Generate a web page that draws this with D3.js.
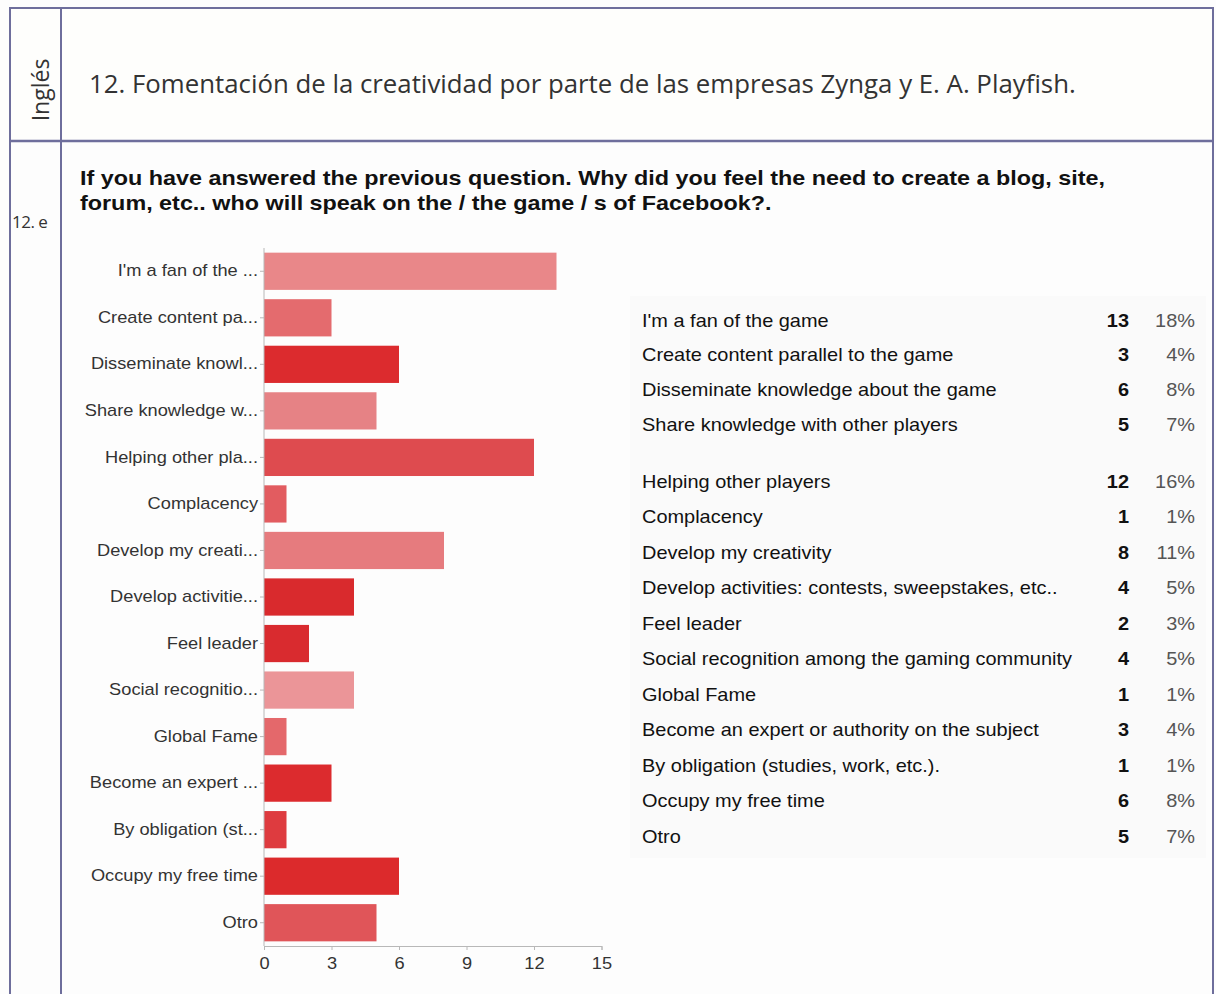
<!DOCTYPE html>
<html lang="es">
<head>
<meta charset="utf-8">
<script src="https://cdnjs.cloudflare.com/ajax/libs/d3/7.8.5/d3.min.js"></script>
<style>
    body { margin: 0; background: #fdfdfd; }
    svg { display: block; }
    .axis path, .axis line { stroke: #b8b8b8; }
    .axis text { font-family: 'Liberation Sans', Arial, sans-serif; fill: #333; }
</style>
</head>
<body>
<svg id="chart"></svg>
<script>
    // data
    const labels = [
        "I'm a fan of the game",
        "Create content parallel to the game",
        "Disseminate knowledge about the game",
        "Share knowledge with other players",
        "Helping other players",
        "Complacency",
        "Develop my creativity",
        "Develop activities: contests, sweepstakes, etc..",
        "Feel leader",
        "Social recognition among the gaming community",
        "Global Fame",
        "Become an expert or authority on the subject",
        "By obligation (studies, work, etc.).",
        "Occupy my free time",
        "Otro"
    ]
    const shortLabels = [
        "I'm a fan of the ...", "Create content pa...", "Disseminate knowl...",
        "Share knowledge w...", "Helping other pla...", "Complacency",
        "Develop my creati...", "Develop activitie...", "Feel leader",
        "Social recognitio...", "Global Fame", "Become an expert ...",
        "By obligation (st...", "Occupy my free time", "Otro"
    ]
    const counts = [13, 3, 6, 5, 12, 1, 8, 4, 2, 4, 1, 3, 1, 6, 5]
    const percents = ["18%", "4%", "8%", "7%", "16%", "1%", "11%", "5%", "3%", "5%", "1%", "4%", "1%", "8%", "7%"]
    const xTicks = [0, 3, 6, 9, 12, 15]

    const barColors = ['#e98789', '#e46b6e', '#dc2b2e', '#e68285', '#de4b4f', '#e25c60',
        '#e67b7e', '#d92a2d', '#d92b2f', '#eb9598', '#e4686b', '#dc2b2e', '#de3b3f', '#dc2a2c', '#e05559']

    const w = 1216, h = 994
    const sans = "'Liberation Sans', Arial, sans-serif"
    const stretch = 1.14 // the source picture is a bit wider than tall
    const svg = d3.select('#chart').attr('width', w).attr('height', h)

    // page frame
    const frame = '#6e6e9c'
    svg.append('rect').attr('x', 0).attr('y', 0).attr('width', w).attr('height', h).attr('fill', '#fdfdfd')
    svg.append('rect').attr('x', 11).attr('y', 8).attr('width', 1201).attr('height', 133).attr('fill', '#fefefc')
    svg.append('line').attr('x1', 10).attr('x2', 1213).attr('y1', 8).attr('y2', 8).attr('stroke', frame).attr('stroke-width', 2)
    svg.append('line').attr('x1', 10).attr('x2', 1213).attr('y1', 141).attr('y2', 141).attr('stroke', frame).attr('stroke-width', 2.5)
    svg.append('line').attr('x1', 10).attr('x2', 10).attr('y1', 7).attr('y2', h).attr('stroke', frame).attr('stroke-width', 2)
    svg.append('line').attr('x1', 61).attr('x2', 61).attr('y1', 7).attr('y2', h).attr('stroke', frame).attr('stroke-width', 2)
    svg.append('line').attr('x1', 1213).attr('x2', 1213).attr('y1', 7).attr('y2', h).attr('stroke', frame).attr('stroke-width', 2)

    svg.append('text')
        .attr('transform', 'translate(49,90) rotate(-90)')
        .attr('text-anchor', 'middle')
        .attr('font-family', "'Open Sans', sans-serif")
        .attr('font-size', 23)
        .attr('fill', '#333')
        .text('Inglés')

    svg.append('text')
        .attr('x', 89).attr('y', 93)
        .attr('font-family', "'Open Sans', sans-serif")
        .attr('font-size', 25.8)
        .attr('fill', '#333')
        .text('12. Fomentación de la creatividad por parte de las empresas Zynga y E. A. Playfish.')

    svg.append('text')
        .attr('x', 12).attr('y', 228)
        .attr('font-family', "'Open Sans', sans-serif")
        .attr('font-size', 17)
        .attr('letter-spacing', -0.5)
        .attr('fill', '#333')
        .text('12. e')

    const qLines = ['If you have answered the previous question. Why did you feel the need to create a blog, site,',
        'forum, etc.. who will speak on the / the game / s of Facebook?.']
    svg.selectAll('.q')
        .data(qLines)
        .enter()
        .append('text')
        .attr('class', 'q')
        .attr('transform', (d, i) => 'translate(80,' + (185 + i * 25) + ') scale(' + 1.18 + ',1)')
        .attr('font-family', sans)
        .attr('font-weight', 'bold')
        .attr('font-size', 19.8)
        .attr('fill', '#111')
        .text((d) => d)

    // bar chart
    const plotLeft = 264, plotRight = 601.5, plotTop = 248, plotBottom = 946
    const xScale = d3.scaleLinear().domain([0, 15]).range([plotLeft, plotRight])
    const yScale = d3.scaleBand().domain(shortLabels).range([plotTop, plotBottom]).paddingInner(0.2).paddingOuter(0.1)

    svg.selectAll('.bar')
        .data(counts)
        .enter()
        .append('rect')
        .attr('class', 'bar')
        .attr('x', xScale(0))
        .attr('y', (d, i) => yScale(shortLabels[i]))
        .attr('width', (d) => xScale(d) - xScale(0))
        .attr('height', yScale.bandwidth())
        .attr('fill', (d, i) => barColors[i])

    const yAxis = d3.axisLeft(yScale).tickSize(4).tickPadding(2)
    svg.append('g')
        .attr('class', 'axis')
        .attr('transform', 'translate(' + plotLeft + ',0)')
        .call(yAxis)
        .call(g => g.select('.domain').attr('d', 'M0,' + plotTop + 'V' + plotBottom))
        .selectAll('text')
        .attr('x', 0)
        .attr('transform', 'translate(-6,0) scale(' + stretch + ',1)')
        .attr('font-size', 16)

    const xAxis = d3.axisBottom(xScale).tickValues(xTicks).tickSize(4).tickPadding(8)
    svg.append('g')
        .attr('class', 'axis')
        .attr('transform', 'translate(0,' + plotBottom + ')')
        .call(xAxis)
        .selectAll('text')
        .attr('transform', 'scale(' + stretch + ',1)')
        .attr('font-size', 16)

    // summary table
    const rowY = (i) => (i < 4 ? 320 + i * 34.7 : 481 + (i - 4) * 35.5)
    const tbl = svg.append('g')
        .attr('font-family', sans)
        .attr('font-size', 17.5)
    tbl.append('rect').attr('x', 630).attr('y', 296).attr('width', 576).attr('height', 562).attr('fill', '#fafafa')
    const rows = tbl.selectAll('.row')
        .data(labels)
        .enter()
        .append('g')
        .attr('class', 'row')
        .attr('transform', (d, i) => 'translate(0,' + (rowY(i) + 6.5) + ')')
    rows.append('text')
        .attr('transform', 'translate(642,0) scale(' + stretch + ',1)')
        .attr('fill', '#111')
        .text((d) => d)
    rows.append('text')
        .attr('transform', 'translate(1129,0) scale(' + stretch + ',1)')
        .attr('text-anchor', 'end').attr('font-weight', 'bold').attr('fill', '#111')
        .text((d, i) => counts[i])
    rows.append('text')
        .attr('transform', 'translate(1195,0) scale(' + stretch + ',1)')
        .attr('text-anchor', 'end').attr('fill', '#555')
        .text((d, i) => percents[i])
</script>
</body>
</html>
